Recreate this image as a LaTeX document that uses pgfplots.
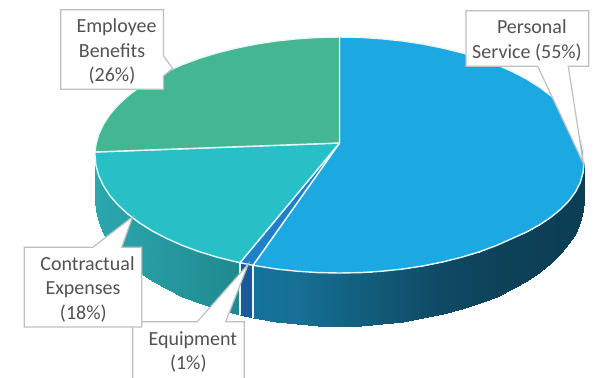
\documentclass[border=0pt]{standalone}
\usepackage{pgfplots}
\usepackage{fontspec}
\pgfplotsset{compat=1.18}
\setmainfont{Carlito}
\definecolor{faceblue}{RGB}{28,168,224}
\definecolor{faceteal}{RGB}{39,192,199}
\definecolor{facegreen}{RGB}{69,182,146}
\definecolor{faceequip}{RGB}{31,127,200}
\definecolor{seam}{RGB}{232,247,250}
\definecolor{callout}{RGB}{191,191,191}
\definecolor{labeltext}{RGB}{82,82,82}
\tikzset{lab/.style={anchor=base, text=labeltext, inner sep=0pt, font=\fontsize{20}{24}\selectfont}}
\pgfplotsset{
  colormap={sideblue}{rgb255(0pt)=(20,115,155); rgb255(165pt)=(20,115,155); rgb255(210pt)=(22,111,148); rgb255(310pt)=(17,84,113); rgb255(360pt)=(15,72,98); rgb255(410pt)=(13,66,90); rgb255(500pt)=(12,62,85)},
  colormap={sideteal}{rgb255(0pt)=(44,168,176); rgb255(150pt)=(31,138,143); rgb255(500pt)=(31,138,143)},
  colormap={sideequip}{rgb255(0pt)=(27,90,150); rgb255(500pt)=(27,90,150)},
  canvas/.style={
    hide axis, scale only axis, width=593pt, height=377pt,
    y dir=reverse, clip=true, anchor=north west, at={(0pt,0pt)},
    point meta min=-250, point meta max=250,
  },
  wedge/.style={fill=#1, draw=seam, line width=1.4pt, line join=round},
  box/.style={fill=white, draw=callout, line width=1.2pt, line join=miter},
}
\begin{document}
\begin{tikzpicture}
\useasboundingbox (0pt,0pt) rectangle (593pt,-377pt);
% the pie itself, in coordinates relative to the centre of the top ellipse
\begin{axis}[canvas, xmin=-339.5, xmax=253.5, ymin=-155, ymax=222]
% side walls
\addplot[surf, shader=interp, colormap name=sideblue, mesh/rows=2, point meta=x] table {
x y
244.5 8
243.6 17.3
240.8 27.5
236.2 36.5
229.8 45.4
221.6 53.9
211.7 62
200.3 69.7
187.3 76.9
172.9 83.4
157.2 90.4
140.2 96.7
122.3 102.2
103.3 106.9
83.6 110.9
63.3 114
42.5 116.2
21.3 117.6
0 118
-21.3 117.6
-42.5 116.2
-63.3 114
-86.5 110.3
244.5 45
243.6 56
240.8 66.9
236.2 77.6
229.8 88.1
221.6 98.2
211.7 108
200.3 117.3
187.3 126
172.9 134.1
157.2 141.5
140.2 148.2
122.3 154.1
103.3 159.2
83.6 163.4
63.3 166.7
42.5 169.1
21.3 170.5
0 171
-21.3 170.5
-42.5 169.1
-63.3 166.7
-86.5 162.8
};
\addplot[surf, shader=interp, colormap name=sideequip, mesh/rows=2, point meta=x] table {
x y
-86.5 110.3
-99.5 107.7
-86.5 162.8
-99.5 160
};
\addplot[surf, shader=interp, colormap name=sideteal, mesh/rows=2, point meta=x] table {
x y
-99.5 107.7
-103.3 106.9
-122.3 102.2
-140.2 96.7
-157.2 90.4
-172.9 83.4
-187.3 75.9
-200.3 67.7
-211.7 59
-221.6 49.9
-229.8 40.4
-236.2 30.5
-240.8 20.5
-243.6 10.3
-244.5 0
-99.5 160
-103.3 159.2
-122.3 154.1
-140.2 148.2
-157.2 141.5
-172.9 134.1
-187.3 126
-200.3 117.3
-211.7 108
-221.6 98.2
-229.8 88.1
-236.2 77.6
-240.8 66.9
-243.6 56
-244.5 45
};
% seams between the side walls
\addplot[draw=seam, line width=1.2pt] coordinates {(-86.5,110.3) (-86.5,162.8)};
\addplot[draw=seam, line width=1.2pt] coordinates {(-99.5,107.7) (-99.5,160)};
% top faces
\addplot[wedge=faceblue] coordinates {
(0,-12) (0,-118) (21.3,-117.6) (42.5,-116.2) (63.3,-114) (83.6,-110.9) (103.3,-106.9)
(122.3,-102.2) (140.2,-96.7) (157.2,-90.4) (172.9,-83.4) (187.3,-75.9) (200.3,-67.7)
(211.7,-59) (221.6,-49.9) (229.8,-40.4) (236.2,-29) (240.8,-17.5) (243.6,-5.3) (244.5,8)
(243.6,17.3) (240.8,27.5) (236.2,36.5) (229.8,45.4) (221.6,53.9) (211.7,62) (200.3,69.7)
(187.3,76.9) (172.9,83.4) (157.2,90.4) (140.2,96.7) (122.3,102.2) (103.3,106.9) (83.6,110.9)
(63.3,114) (42.5,116.2) (21.3,117.6) (0,118) (-21.3,117.6) (-42.5,116.2) (-63.3,114)
(-86.5,110.3)} -- cycle;
\addplot[wedge=faceequip] coordinates {(0,-12) (-86.5,110.3) (-99.5,107.7)} -- cycle;
\addplot[wedge=faceteal] coordinates {
(0,-12) (-99.5,107.7) (-103.3,106.9) (-122.3,102.2) (-140.2,96.7) (-157.2,90.4) (-172.9,83.4)
(-187.3,75.9) (-200.3,67.7) (-211.7,59) (-221.6,49.9) (-229.8,40.4) (-236.2,30.5) (-240.8,20.5)
(-243.6,10.3) (-244.5,0) (-244.5,-3)} -- cycle;
\addplot[wedge=facegreen] coordinates {
(0,-12) (-244.5,-3) (-243.6,-10.3) (-240.8,-20.5) (-236.2,-30.5) (-229.8,-40.4) (-221.6,-49.9)
(-211.7,-59) (-200.3,-67.7) (-187.3,-75.9) (-172.9,-83.4) (-157.2,-90.4) (-140.2,-96.7)
(-122.3,-102.2) (-103.3,-106.9) (-83.6,-110.9) (-63.3,-114) (-42.5,-116.2) (-21.3,-117.6)
(0,-118)} -- cycle;
\end{axis}
% callouts and their labels
\begin{axis}[canvas, xmin=0, xmax=593, ymin=0, ymax=377]
\addplot[box] coordinates {(60.7,9.7) (163.5,9.7) (163.5,56) (172.7,68.3) (163.5,76) (163.5,89.3) (60.7,89.3)} -- cycle;
\addplot[box] coordinates {(466,10.7) (588.7,10.7) (588.7,66.3) (568.3,66.3) (583.3,163.3) (537.7,66.3) (466,66.3)} -- cycle;
\addplot[box] coordinates {(132.7,321.7) (197.3,321.7) (248.3,264) (225.7,321.7) (244.3,321.7) (244.3,380) (132.7,380)} -- cycle;
\addplot[box] coordinates {(24.3,247.3) (92.7,247.3) (132.7,216.7) (121.7,247.3) (141.7,247.3) (141.7,327) (24.3,327)} -- cycle;
\node[lab] at (axis cs:116.5,32) {Employee};
\node[lab] at (axis cs:112,57) {Benefits};
\node[lab] at (axis cs:112,81) {(26\%)};
\node[lab] at (axis cs:531.8,33) {Personal};
\node[lab] at (axis cs:527,58) {Service (55\%)};
\node[lab] at (axis cs:87.5,270) {Contractual};
\node[lab] at (axis cs:83,294.7) {Expenses};
\node[lab] at (axis cs:83.3,319) {(18\%)};
\node[lab] at (axis cs:192.8,345) {Equipment};
\node[lab] at (axis cs:188.3,369) {(1\%)};
\end{axis}
\end{tikzpicture}
\end{document}
